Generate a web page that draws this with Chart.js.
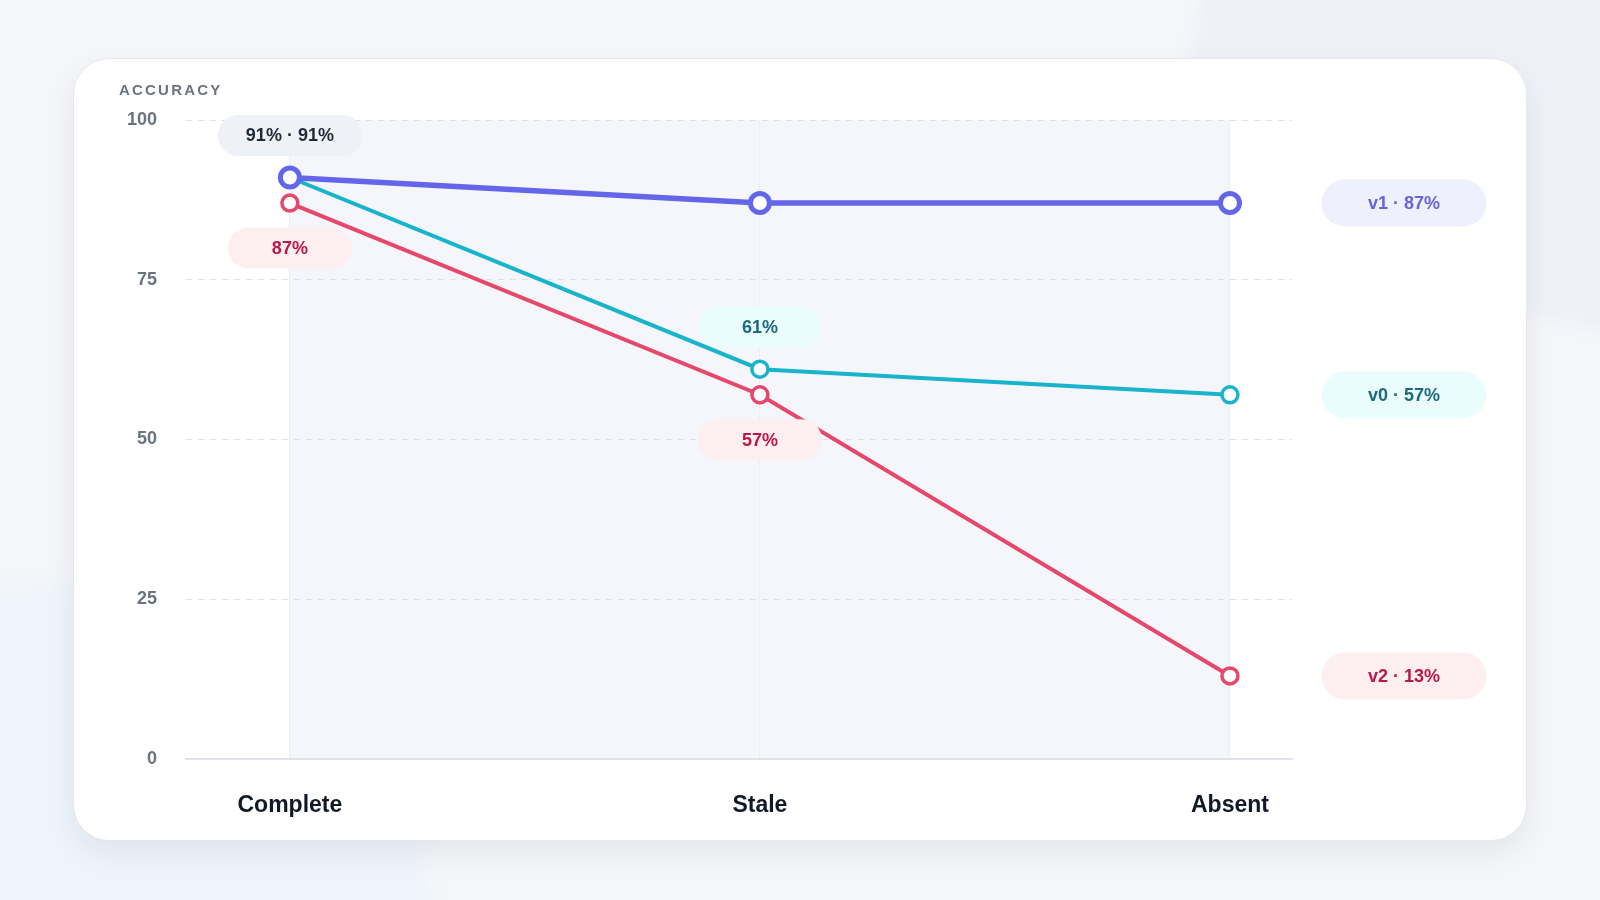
<!DOCTYPE html>
<html>
<head>
<meta charset="utf-8">
<script src="https://cdn.jsdelivr.net/npm/chart.js"></script>
<style>
    html, body { margin: 0; padding: 0; }
    body {
        width: 1600px; height: 900px; overflow: hidden; position: relative;
        background: #f4f6f9;
        font-family: "Liberation Sans", Arial, sans-serif;
    }
    .blob-tr {
        position: absolute; left: 1190px; top: -130px; width: 580px; height: 430px;
        background: #eff1f8; transform: rotate(12deg); filter: blur(6px);
    }
    .blob-bl {
        position: absolute; left: -120px; top: 575px; width: 530px; height: 430px;
        background: #eef4fb; transform: rotate(-8deg); filter: blur(8px);
    }
    .card {
        position: absolute; left: 73px; top: 58px; width: 1454px; height: 783px;
        background: #fff; border-radius: 36px; border: 1px solid #e6e8ec;
        box-sizing: border-box;
        box-shadow: 0 12px 30px rgba(15, 23, 42, 0.07);
    }
    .card .label {
        position: absolute; left: 45px; top: 22px;
        font-size: 15px; font-weight: 700; letter-spacing: 2.2px; color: #6b7280;
    }
    .chart-wrap { position: absolute; left: -1px; top: -1px; width: 1454px; height: 783px; }
</style>
</head>
<body>
<div class="blob-tr"></div>
<div class="blob-bl"></div>
<div class="card">
    <div class="chart-wrap"><canvas id="accuracyChart"></canvas></div>
    <div class="label">ACCURACY</div>
</div>
<script>
// Chart data
const categories = ['Complete', 'Stale', 'Absent'];
const seriesNames = ['v1', 'v0', 'v2'];
const v1Values = [91, 87, 87];
const v0Values = [91, 61, 57];
const v2Values = [87, 57, 13];
const yTicks = [0, 25, 50, 75, 100];

// Which point values get a pill (series listed together share one pill)
const pointLabels = [
    { index: 0, series: ['v1', 'v0'], side: 'above' },
    { index: 0, series: ['v2'], side: 'below' },
    { index: 1, series: ['v0'], side: 'above' },
    { index: 1, series: ['v2'], side: 'below' }
];

const values = { v1: v1Values, v0: v0Values, v2: v2Values };

const styles = {
    v1: { line: '#6366e8', width: 5.5, radius: 9.5, border: 5, text: '#6a63d8', pill: '#eef0fd' },
    v0: { line: '#17b4cc', width: 4, radius: 8, border: 3.5, text: '#1b6a7d', pill: '#ebfcfd' },
    v2: { line: '#e5486a', width: 4, radius: 8, border: 3.5, text: '#b8184a', pill: '#fdeef0' }
};
const neutralPill = { text: '#1f2937', pill: '#eef1f5' };
const FONT = '"Liberation Sans", Arial, sans-serif';

function pill(ctx, cx, cy, text, fontSize, minW, padX, h, bg, fg) {
    ctx.save();
    ctx.font = `700 ${fontSize}px ${FONT}`;
    const w = Math.max(minW, ctx.measureText(text).width + padX * 2);
    ctx.beginPath();
    ctx.roundRect(cx - w / 2, cy - h / 2, w, h, h / 2);
    ctx.fillStyle = bg;
    ctx.fill();
    ctx.fillStyle = fg;
    ctx.textAlign = 'center';
    ctx.textBaseline = 'middle';
    ctx.fillText(text, cx, cy + 1);
    ctx.restore();
}

const annotate = {
    id: 'annotate',
    beforeDraw(chart) {
        // shaded band between first and last category
        const { ctx, scales: { x, y } } = chart;
        ctx.save();
        ctx.fillStyle = '#f5f6fb';
        const x0 = x.getPixelForValue(0);
        const x1 = x.getPixelForValue(categories.length - 1);
        const yTop = y.getPixelForValue(yTicks[yTicks.length - 1]);
        ctx.fillRect(x0, yTop, x1 - x0, y.getPixelForValue(0) - yTop);
        ctx.restore();
    },
    afterDatasetsDraw(chart) {
        const { ctx, scales: { x, y } } = chart;

        pointLabels.forEach(lbl => {
            const vals = lbl.series.map(s => values[s][lbl.index]);
            const text = vals.map(v => v + '%').join(' · ');
            const st = lbl.series.length > 1 ? neutralPill : styles[lbl.series[0]];
            const px = x.getPixelForValue(lbl.index);
            const cy = lbl.side === 'above'
                ? y.getPixelForValue(Math.max(...vals)) - 42
                : y.getPixelForValue(Math.min(...vals)) + 45;
            pill(ctx, px, cy, text, 18, 124, 28, 41, st.pill, st.text);
        });

        // end-of-line pills on the right
        const last = categories.length - 1;
        seriesNames.forEach(s => {
            const st = styles[s];
            const cy = y.getPixelForValue(values[s][last]);
            pill(ctx, 1331, cy, `${s} · ${values[s][last]}%`, 18, 165, 20, 47, st.pill, st.text);
        });
    }
};

const datasets = seriesNames.map(s => ({
    label: s,
    data: values[s].map((v, i) => ({ x: i, y: v })),
    borderColor: styles[s].line,
    borderWidth: styles[s].width,
    pointRadius: styles[s].radius,
    pointHoverRadius: styles[s].radius,
    pointBorderWidth: styles[s].border,
    pointBackgroundColor: '#ffffff',
    pointBorderColor: styles[s].line,
    tension: 0
}));

new Chart(document.getElementById('accuracyChart'), {
    type: 'line',
    data: { datasets },
    plugins: [annotate],
    options: {
        responsive: true,
        maintainAspectRatio: false,
        animation: false,
        layout: { padding: { left: 0, top: 62, right: 235, bottom: 0 } },
        plugins: { legend: { display: false }, tooltip: { enabled: false } },
        scales: {
            x: {
                type: 'linear',
                min: -0.221,
                max: 2.132,
                afterBuildTicks: scale => { scale.ticks = categories.map((c, i) => ({ value: i })); },
                afterFit: scale => { scale.height = 82; },
                ticks: {
                    callback: v => categories[v],
                    color: '#111827',
                    font: { size: 23, weight: '700', family: FONT },
                    padding: 33,
                    maxRotation: 0
                },
                grid: { color: '#eceef3', lineWidth: 1, drawTicks: false },
                border: { display: true, color: '#dfe2e8', width: 2 }
            },
            y: {
                min: 0,
                max: 100,
                afterBuildTicks: scale => { scale.ticks = yTicks.map(v => ({ value: v })); },
                afterFit: scale => { scale.width = 113; },
                ticks: {
                    color: '#6b7280',
                    font: { size: 18, weight: '700', family: FONT },
                    padding: 29
                },
                grid: { color: '#dfe2e7', lineWidth: 1, drawTicks: false },
                border: { display: false, dash: [6, 6] }
            }
        }
    }
});
</script>
</body>
</html>
